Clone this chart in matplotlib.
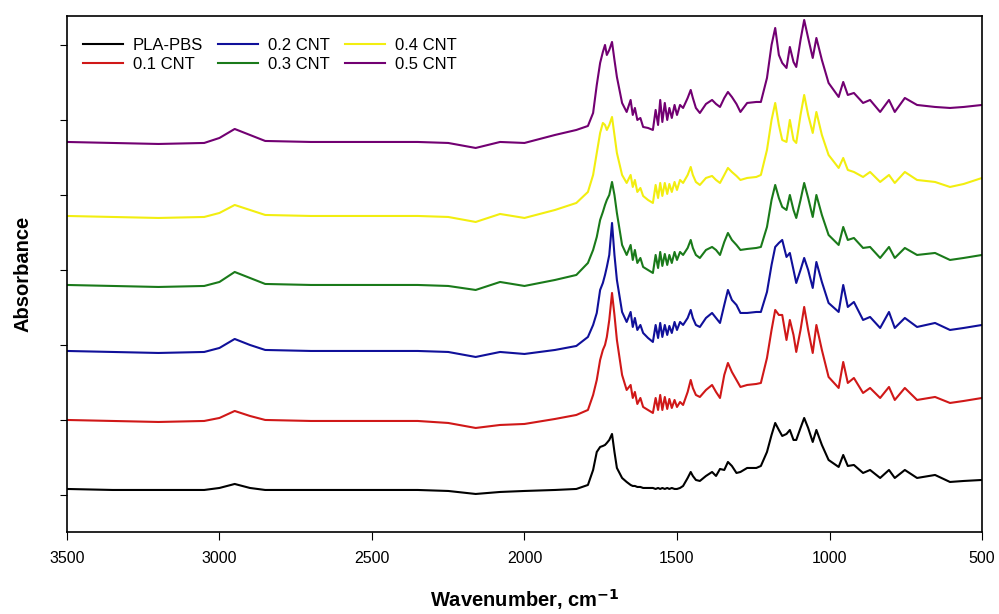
import matplotlib
matplotlib.use("Agg")
import matplotlib.pyplot as plt

plt.rcParams['font.family'] = ['Liberation Sans', 'DejaVu Sans']

# wavenumber grid (cm-1), shared by all spectra
wavenumber = [3500, 3350, 3200, 3050, 3000, 2950, 2900, 2850, 2700, 2500,
              2350, 2250, 2160, 2080, 2000, 1900, 1830, 1792, 1775, 1763,
              1752, 1743, 1736, 1730, 1722, 1713, 1705, 1697, 1680, 1665,
              1652, 1645, 1638, 1630, 1620, 1611, 1595, 1579, 1570, 1562,
              1555, 1548, 1540, 1532, 1525, 1517, 1508, 1500, 1490, 1480,
              1465, 1455, 1448, 1438, 1425, 1405, 1385, 1372, 1359, 1345,
              1333, 1320, 1305, 1292, 1270, 1240, 1225, 1205, 1190, 1178,
              1166, 1155, 1141, 1130, 1118, 1109, 1095, 1083, 1070, 1055,
              1043, 1025, 1003, 970, 955, 940, 920, 890, 867, 834,
              805, 786, 753, 713, 654, 605, 560, 500]

# stacked absorbance (arbitrary units, traces already offset)
pla_pbs = [6, 5, 5, 5, 7, 11, 7, 5, 5, 5,
           5, 4, 1, 3, 4, 5, 6, 10, 25, 43,
           48, 49, 50, 52, 55, 61, 43, 27, 17, 13,
           10, 9, 9, 8, 8, 7, 7, 7, 6, 7,
           6, 7, 6, 7, 6, 7, 6, 6, 7, 9,
           17, 23, 19, 15, 14, 19, 23, 19, 26, 25,
           33, 29, 22, 23, 27, 27, 29, 43, 60, 72,
           65, 59, 61, 65, 55, 55, 67, 77, 67, 53,
           65, 50, 35, 28, 40, 29, 30, 22, 25, 17,
           25, 17, 25, 17, 20, 13, 14, 15]

cnt_01 = [75, 74, 73, 74, 77, 84, 79, 75, 74, 74,
          74, 72, 67, 70, 71, 76, 80, 85, 100, 115,
          135, 145, 150, 158, 175, 202, 180, 155, 120, 105,
          110, 97, 103, 91, 97, 88, 85, 82, 97, 85,
          100, 85, 98, 86, 96, 87, 95, 88, 93, 90,
          103, 115, 107, 100, 98, 105, 110, 103, 97, 120,
          132, 123, 115, 108, 110, 111, 112, 137, 165, 185,
          180, 180, 155, 175, 160, 143, 165, 188, 165, 142,
          170, 145, 118, 107, 133, 112, 117, 102, 107, 97,
          108, 95, 107, 95, 98, 92, 94, 97]

cnt_02 = [144, 143, 142, 143, 147, 156, 150, 145, 144, 144,
          144, 143, 138, 143, 141, 145, 149, 158, 170, 182,
          205, 212, 220, 228, 240, 272, 240, 215, 183, 173,
          183, 168, 177, 165, 170, 162, 157, 153, 170, 157,
          172, 158, 170, 160, 169, 162, 173, 165, 173, 170,
          177, 185, 177, 170, 168, 177, 182, 177, 172, 190,
          205, 195, 190, 182, 182, 183, 183, 203, 230, 248,
          252, 255, 238, 242, 225, 212, 225, 237, 225, 207,
          233, 213, 192, 183, 210, 188, 193, 175, 178, 167,
          183, 167, 177, 168, 172, 165, 167, 170]

cnt_03 = [210, 209, 208, 209, 213, 223, 217, 211, 210, 210,
          210, 209, 205, 213, 209, 215, 220, 232, 245, 258,
          275, 283, 290, 295, 300, 313, 300, 282, 250, 240,
          250, 235, 245, 232, 237, 228, 225, 222, 240, 227,
          243, 229, 241, 230, 240, 232, 243, 235, 243, 240,
          247, 255, 247, 240, 237, 245, 248, 245, 240, 253,
          262, 255, 250, 245, 246, 247, 248, 268, 295, 310,
          297, 288, 285, 300, 285, 277, 295, 312, 297, 278,
          300, 280, 260, 250, 268, 255, 257, 247, 248, 237,
          248, 237, 247, 240, 242, 235, 237, 240]

cnt_04 = [279, 278, 277, 278, 282, 290, 285, 280, 279, 279,
          279, 278, 273, 281, 277, 285, 292, 303, 320, 342,
          362, 372, 370, 365, 370, 378, 360, 342, 320, 312,
          320, 308, 315, 303, 307, 299, 295, 292, 310, 297,
          312, 299, 312, 301, 311, 303, 313, 305, 315, 312,
          320, 328, 320, 313, 310, 317, 319, 315, 312, 320,
          327, 323, 319, 315, 317, 318, 320, 345, 375, 392,
          370, 355, 353, 375, 355, 352, 380, 400, 380, 362,
          383, 360, 340, 327, 337, 325, 323, 318, 323, 313,
          320, 312, 323, 315, 313, 308, 311, 317]

cnt_05 = [353, 352, 351, 352, 357, 366, 360, 354, 353, 353,
          353, 352, 347, 353, 352, 360, 365, 369, 382, 410,
          432, 443, 450, 440, 445, 453, 435, 418, 392, 383,
          395, 380, 387, 375, 377, 368, 367, 365, 385, 370,
          395, 373, 392, 375, 387, 377, 390, 380, 390, 387,
          397, 405, 397, 387, 382, 391, 395, 391, 388, 397,
          403, 398, 391, 383, 392, 393, 393, 417, 450, 467,
          440, 432, 427, 448, 433, 428, 455, 475, 457, 437,
          457, 435, 412, 398, 413, 400, 402, 392, 395, 383,
          395, 383, 397, 390, 388, 387, 388, 390]

labels = ['PLA-PBS', '0.1 CNT', '0.2 CNT', '0.3 CNT', '0.4 CNT', '0.5 CNT']
colors = ['#000000', '#d01818', '#10109a', '#1a7a1a', '#f2ee10', '#720072']
series = [pla_pbs, cnt_01, cnt_02, cnt_03, cnt_04, cnt_05]

fig = plt.figure(figsize=(9.99, 6.14), dpi=100)
ax = fig.add_axes([0.067, 0.1336, 0.916, 0.8404])

for y, lab, c in zip(series, labels, colors):
    ax.plot(wavenumber, y, color=c, lw=1.5, label=lab)

ax.set_xlim(3500, 500)
ax.set_ylim(-37, 479)
ax.set_xticks([3500, 3000, 2500, 2000, 1500, 1000, 500])
ax.set_yticks([0, 75, 150, 225, 300, 375, 450])
ax.set_yticklabels([])
ax.tick_params(axis='x', direction='out', length=6, labelsize=11.5, pad=8)
ax.tick_params(axis='y', direction='out', length=5)
for s in ax.spines.values():
    s.set_linewidth(1.2)

ax.set_xlabel('Wavenumber, cm$^{\\mathbf{-1}}$', fontsize=14.5, fontweight='bold',
              labelpad=15)
ax.set_ylabel('Absorbance', fontsize=14.5, fontweight='bold', labelpad=16)

ax.legend(loc='upper left', bbox_to_anchor=(0.01, 0.971), ncol=3, frameon=False,
          fontsize=12, handlelength=2.4, handletextpad=0.6, columnspacing=0.9,
          labelspacing=0.26, borderaxespad=0.0, borderpad=0.4)

fig.savefig('out.png', dpi=100)
